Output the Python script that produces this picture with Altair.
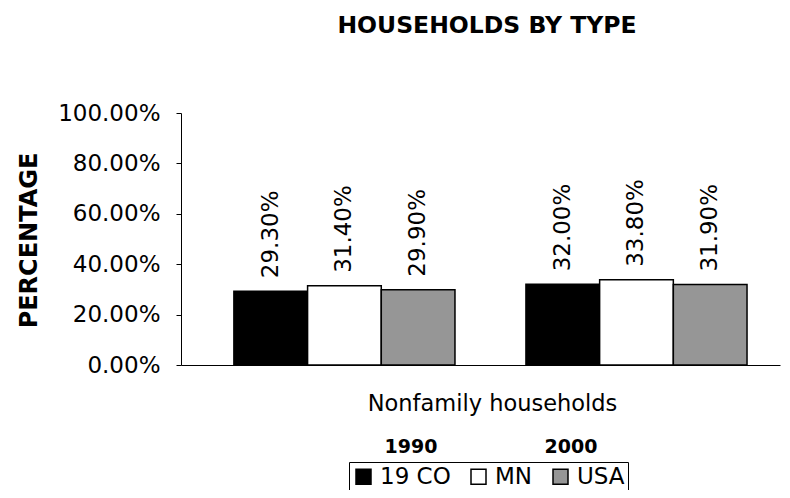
import altair as alt
import pandas as pd

title_text = "HOUSEHOLDS BY TYPE"
category = "Nonfamily households"
years = ["1990", "2000"]
regions = ["19 CO", "MN", "USA"]
values_1990 = [0.293, 0.314, 0.299]
values_2000 = [0.320, 0.338, 0.319]
colors = ["#000000", "#ffffff", "#969696"]

rows = []
for yr, vals in zip(years, [values_1990, values_2000]):
    for r, v in zip(regions, vals):
        rows.append({"year": yr, "region": r, "value": v})
df = pd.DataFrame(rows)

FONT = "DejaVu Sans"

x_enc = alt.X(
    "year:N",
    sort=years,
    scale=alt.Scale(paddingInner=0.243, paddingOuter=0.147, align=0.616),
    axis=alt.Axis(
        labels=False, ticks=False, domainColor="black", domainWidth=1,
        title=category, titleFontSize=22.5, titleFontWeight="normal",
        titleColor="black", titleFont=FONT, titleX=311, titleY=45,
        titleAlign="center", titleBaseline="alphabetic",
    ),
)
xo_enc = alt.XOffset("region:N", sort=regions,
                     scale=alt.Scale(domain=regions, paddingInner=0, paddingOuter=0))
y_enc = alt.Y(
    "value:Q",
    scale=alt.Scale(domain=[0, 1]),
    axis=alt.Axis(
        values=[0, 0.2, 0.4, 0.6, 0.8, 1.0], format=".2%", grid=False,
        domainColor="black", tickColor="black", tickSize=5, labelPadding=16,
        labelFontSize=23, labelColor="black", labelFont=FONT,
        title="PERCENTAGE", titleFontSize=24, titleFontWeight="bold",
        titleColor="black", titleFont=FONT, titleX=-152, titleY=127,
        titleAngle=270, titleAlign="center", titleBaseline="middle",
    ),
)

base = alt.Chart(df)
bars = base.mark_bar(stroke="black", strokeWidth=1.5).encode(
    x=x_enc, xOffset=xo_enc, y=y_enc,
    color=alt.Color(
        "region:N", sort=regions,
        scale=alt.Scale(domain=regions, range=colors),
        legend=alt.Legend(
            title=None, orient="none", legendX=168, legendY=349,
            direction="horizontal", strokeColor="black", fillColor="white",
            padding=3, labelFontSize=23, labelFont=FONT, labelColor="black",
            symbolType="square", symbolSize=225, symbolStrokeColor="black",
            symbolStrokeWidth=1.5, symbolOpacity=1, labelOffset=5,
            columnPadding=16,
        ),
    ),
)
labels = base.mark_text(
    angle=270, align="left", baseline="middle", dx=13,
    fontSize=23, font=FONT, color="black",
).encode(x=x_enc, xOffset=xo_enc, y=y_enc, text=alt.Text("value:Q", format=".2%"))

title = alt.Chart(pd.DataFrame({"t": [title_text]})).mark_text(
    align="center", baseline="alphabetic", fontSize=23.5, fontWeight="bold",
    font=FONT, color="black",
).encode(text="t:N", x=alt.value(306), y=alt.value(-80))

year1 = alt.Chart(pd.DataFrame({"y": [years[0]]})).mark_text(
    align="center", baseline="alphabetic", fontSize=19, fontWeight="bold",
    font=FONT, color="black",
).encode(text="y:N", x=alt.value(230), y=alt.value(340))
year2 = alt.Chart(pd.DataFrame({"y": [years[1]]})).mark_text(
    align="center", baseline="alphabetic", fontSize=19, fontWeight="bold",
    font=FONT, color="black",
).encode(text="y:N", x=alt.value(390), y=alt.value(340))

chart = alt.layer(bars, labels, title, year1, year2).properties(
    width=599, height=252,
    autosize=alt.AutoSizeParams(type="none"),
    padding={"left": 173, "top": 105, "right": 2, "bottom": 125},
    background="white",
).configure_view(stroke=None)

chart.save("out.html", embed_options={"renderer": "svg", "actions": False})
